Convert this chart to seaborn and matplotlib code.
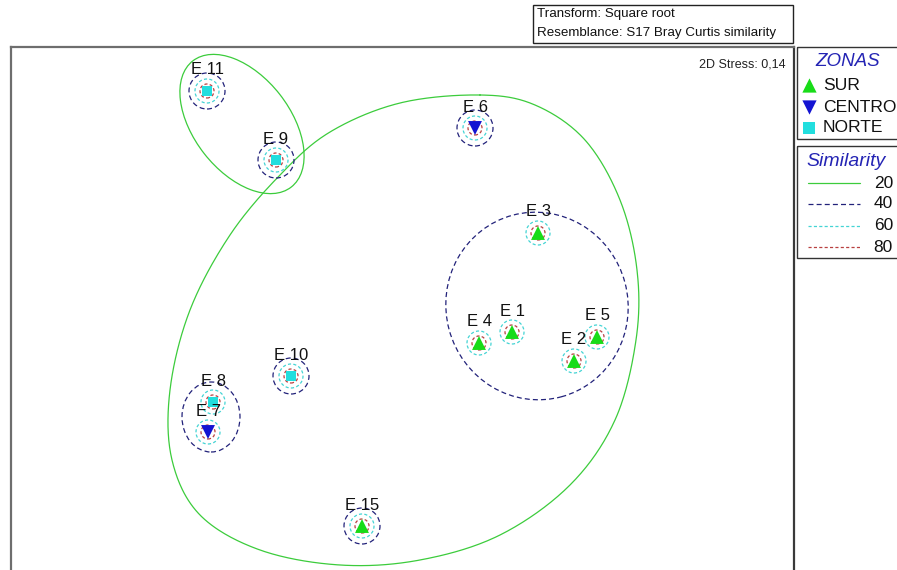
import numpy as np
import pandas as pd
import matplotlib
matplotlib.use("Agg")
import matplotlib.pyplot as plt
from matplotlib.patches import Ellipse, Circle, Rectangle
import seaborn as sns

sns.set_theme(style="white")
plt.rcParams["font.family"] = ["Liberation Sans", "DejaVu Sans"]

# --- nMDS ordination (square-root transform, Bray-Curtis) ---
stations = ["E 1", "E 2", "E 3", "E 4", "E 5", "E 6",
            "E 7", "E 8", "E 9", "E 10", "E 11", "E 15"]
mds_x = [1.12, 1.74, 1.38, 0.79, 1.97, 0.75,
         -1.92, -1.87, -1.24, -1.09, -1.93, -0.38]
mds_y = [-0.32, -0.61, 0.67, -0.43, -0.37, 1.72,
         -1.32, -1.02, 1.40, -0.76, 2.09, -2.26]
zonas = ["SUR", "SUR", "SUR", "SUR", "SUR", "CENTRO",
         "CENTRO", "NORTE", "NORTE", "NORTE", "NORTE", "SUR"]
zone_order = ["SUR", "CENTRO", "NORTE"]
stress = "0,14"

# cluster similarity levels
sim_levels = [20, 40, 60, 80]
# stations standing alone at each level (each gets its own ring)
single_40 = ["E 6", "E 9", "E 10", "E 11", "E 15"]
single_60 = stations
single_80 = stations

# group outlines (ordination units)
grp20_a = dict(xy=(-1.58, 1.76), width=1.60, height=0.96, angle=-52)
grp20_b_x = [0.80, 0.00, -0.70, -1.20, -1.70, -2.10, -2.30, -2.28, -2.00, -1.40,
             -0.60, 0.20, 1.00, 1.70, 2.15, 2.36, 2.37, 2.20, 1.85, 1.35]
grp20_b_y = [2.05, 1.97, 1.68, 1.25, 0.65, -0.10, -0.90, -1.60, -2.15, -2.50,
             -2.65, -2.60, -2.35, -1.85, -1.20, -0.40, 0.30, 1.00, 1.60, 1.95]
grp40_a = dict(xy=(1.37, -0.06), width=1.82, height=1.88, angle=15)
grp40_b = dict(xy=(-1.89, -1.17), width=0.58, height=0.70, angle=0)

df = pd.DataFrame({"station": stations, "x": mds_x, "y": mds_y, "zona": zonas})

zone_colors = {"SUR": "#18dc18", "CENTRO": "#1414d2", "NORTE": "#22dede"}
zone_markers = {"SUR": "^", "CENTRO": "v", "NORTE": "s"}
zone_sizes = {"SUR": 100, "CENTRO": 100, "NORTE": 60}
level_style = {
    20: dict(color="#3ccc3c", ls="-"),
    40: dict(color="#22227a", ls=(0, (4, 2.5))),
    60: dict(color="#44d4d4", ls=(0, (2.5, 1.8))),
    80: dict(color="#b84040", ls=(0, (2.5, 1.8))),
}
ring_radius = {40: 0.18, 60: 0.12, 80: 0.07}


def closed_spline(px, py, n=30):
    pts = np.column_stack([px, py])
    N = len(pts)
    t = np.linspace(0, 1, n, endpoint=False)[:, None]
    segs = []
    for i in range(N):
        p0, p1, p2, p3 = pts[(i - 1) % N], pts[i], pts[(i + 1) % N], pts[(i + 2) % N]
        segs.append(0.5 * (2 * p1 + (-p0 + p2) * t
                           + (2 * p0 - 5 * p1 + 4 * p2 - p3) * t ** 2
                           + (-p0 + 3 * p1 - 3 * p2 + p3) * t ** 3))
    out = np.vstack(segs)
    return np.vstack([out, out[:1]])


W, H = 897, 570
fig = plt.figure(figsize=(W / 100, H / 100), dpi=100)
ax = fig.add_axes([11 / W, -5 / H, 783 / W, 528 / H])
ax.set_xlim(-3.89, 3.94)
ax.set_ylim(-2.75, 2.53)
ax.set_xticks([])
ax.set_yticks([])
for side, sp in ax.spines.items():
    sp.set_visible(True)
    sp.set_color("#6e6e6e" if side != "right" else "#3a3a3a")
    sp.set_linewidth(1.6)

# similarity outlines
lw = 0.9
st = level_style[20]
ax.add_patch(Ellipse(**grp20_a, fill=False, ec=st["color"], ls=st["ls"], lw=lw))
curve = closed_spline(grp20_b_x, grp20_b_y)
ax.plot(curve[:, 0], curve[:, 1], color=st["color"], ls=st["ls"], lw=lw)

st = level_style[40]
for g in (grp40_a, grp40_b):
    ax.add_patch(Ellipse(**g, fill=False, ec=st["color"], ls=st["ls"], lw=lw))

pos = dict(zip(stations, zip(mds_x, mds_y)))
for lvl, members in ((40, single_40), (60, single_60), (80, single_80)):
    st = level_style[lvl]
    for s in members:
        ax.add_patch(Circle(pos[s], ring_radius[lvl], fill=False,
                            ec=st["color"], ls=st["ls"], lw=lw, zorder=3))

sns.scatterplot(data=df, x="x", y="y", hue="zona", style="zona", size="zona",
                hue_order=zone_order, palette=zone_colors, markers=zone_markers,
                sizes=zone_sizes, linewidth=0, legend=False, ax=ax, zorder=4)
ax.set_xlabel("")
ax.set_ylabel("")

for s, x, y in zip(stations, mds_x, mds_y):
    ax.text(x, y + 0.21, s, ha="center", va="center", fontsize=12, color="#111111",
            zorder=5)

ax.text(0.989, 0.966, f"2D Stress: {stress}", transform=ax.transAxes,
        ha="right", va="center", fontsize=9, color="#222222")

# overlay in pixel coordinates for header and legend boxes
ov = fig.add_axes([0, 0, 1, 1], zorder=10)
ov.set_xlim(0, W)
ov.set_ylim(H, 0)
ov.axis("off")

ov.add_patch(Rectangle((533, 5), 260, 38, fill=False, ec="#222222", lw=1))
ov.text(537, 14.5, "Transform: Square root", ha="left", va="center", fontsize=9.6,
        color="#111111")
ov.text(537, 33, "Resemblance: S17 Bray Curtis similarity", ha="left",
        va="center", fontsize=9.6, color="#111111")

ov.add_patch(Rectangle((797, 47), 130, 92, fill=False, ec="#333333", lw=1,
                       clip_on=False))
ov.add_patch(Rectangle((797, 146), 130, 112, fill=False, ec="#333333", lw=1,
                       clip_on=False))

title_color = "#2424b4"
ov.text(848, 61, "ZONAS", ha="center", va="center", fontsize=13.5,
        style="italic", color=title_color)
ov.text(846, 161, "Similarity", ha="center", va="center", fontsize=14,
        style="italic", color=title_color)

for z, yy in zip(zone_order, [85, 107, 128]):
    ov.scatter([809], [yy], marker=zone_markers[z], s=zone_sizes[z] * 1.05,
               color=zone_colors[z], linewidth=0)
    ov.text(823, yy, z, ha="left", va="center", fontsize=12.6, color="#111111")

for lvl, yy in zip(sim_levels, [183, 204, 226, 247]):
    st = level_style[lvl]
    ov.plot([808, 860], [yy, yy], color=st["color"], ls=st["ls"], lw=lw)
    ov.text(893, yy, str(lvl), ha="right", va="center", fontsize=12.5, color="#111111")

fig.savefig("out.png", dpi=100, facecolor="white")
